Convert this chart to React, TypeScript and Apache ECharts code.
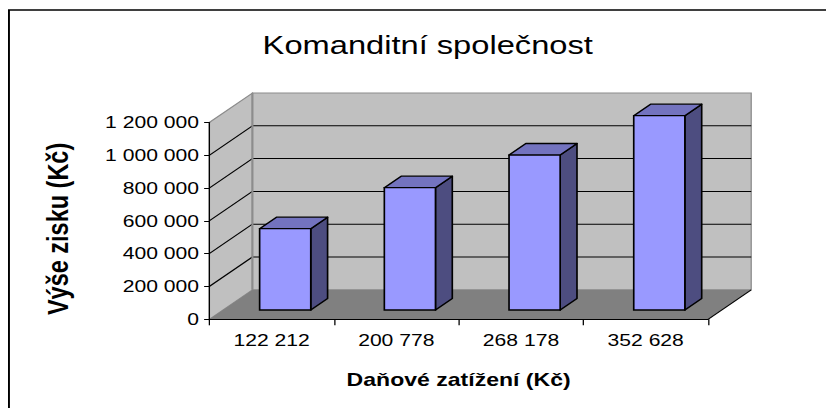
import React, { useEffect, useRef } from "react";
import * as echarts from "echarts";

// ---- data ----
const categories = ["122 212", "200 778", "268 178", "352 628"];
const profits = [496000, 746000, 945000, 1185000];
const yTicks = [0, 200000, 400000, 600000, 800000, 1000000, 1200000];
const yTickLabels = ["0", "200 000", "400 000", "600 000", "800 000", "1 000 000", "1 200 000"];
const titleText = "Komanditní společnost";
const xTitle = "Daňové zatížení (Kč)";
const yTitle = "Výše zisku (Kč)";

// ---- layout (internal chart units; chart is stretched horizontally like the original) ----
const OUT_W = 826;
const IN_W = 645;
const SX = OUT_W / IN_W;
const H = 408;
const DX = 33.7; // depth offset of back wall
const DY = -29.5;
const F0 = 0.315; // bar front plane depth fraction
const DEPTH = 0.39; // bar depth fraction
const BAR_W = 0.41; // bar width as fraction of category
const FONT = "'Liberation Sans', Arial, sans-serif";

export default function App() {
  const ref = useRef<HTMLDivElement>(null);
  useEffect(() => {
    if (!ref.current) return;
    const chart = echarts.init(ref.current, undefined, { renderer: "svg" });
    const option: any = {
      animation: false,
      backgroundColor: "#fff",
      title: {
        text: titleText,
        left: 329,
        top: 26.5,
        padding: 5,
        textAlign: "center",
        textStyle: { fontFamily: FONT, fontSize: 25.5, fontWeight: "normal", color: "#000" },
      },
      graphic: [
        {
          type: "rect",
          shape: { x: 7, y: 10, width: 700, height: 460 },
          style: { fill: "none", stroke: "#000", lineWidth: 1.5 },
          silent: true,
        },
      ],
      grid: { left: 163.4, right: IN_W - 552.9, top: 122.5, bottom: H - 319.3, containLabel: false },
      xAxis: {
        type: "category",
        data: categories,
        z: 10,
        boundaryGap: true,
        axisLine: { lineStyle: { color: "#000", width: 1 } },
        axisTick: { show: true, length: 6, alignWithLabel: false, lineStyle: { color: "#000" } },
        axisLabel: { color: "#000", fontFamily: FONT, fontSize: 16.5, margin: 13 },
        splitLine: { show: false },
        name: xTitle,
        nameLocation: "middle",
        nameGap: 51,
        nameTextStyle: { color: "#000", fontFamily: FONT, fontSize: 18, fontWeight: "bold" },
      },
      yAxis: {
        type: "value",
        min: 0,
        max: 1200000,
        interval: 200000,
        z: 10,
        axisLine: { show: true, lineStyle: { color: "#000", width: 1 } },
        axisTick: { show: true, length: 4, lineStyle: { color: "#000" } },
        axisLabel: {
          color: "#000",
          fontFamily: FONT,
          fontSize: 16.5,
          margin: 8,
          formatter: (v: number) => {
            const i = yTicks.indexOf(v);
            return i >= 0 ? yTickLabels[i] : "";
          },
        },
        splitLine: { show: false },
        name: yTitle,
        nameLocation: "middle",
        nameGap: 106,
        nameTextStyle: {
          color: "#000",
          fontFamily: FONT,
          fontSize: 23.5,
          fontWeight: "bold",
          padding: [0, 16, 0, 0],
        },
      },
      series: [
        {
          type: "custom",
          z: 1,
          silent: true,
          clip: false,
          data: [[0, 0]],
          encode: { x: 0, y: 1 },
          renderItem: (params: any, api: any) => {
            const cs = params.coordSys;
            const x0 = cs.x;
            const x1 = cs.x + cs.width;
            const yT = cs.y;
            const yB = cs.y + cs.height;
            const children: any[] = [];
            // back wall
            children.push({
              type: "polygon",
              shape: { points: [[x0 + DX, yT + DY], [x1 + DX, yT + DY], [x1 + DX, yB + DY], [x0 + DX, yB + DY]] },
              style: { fill: "#c0c0c0", stroke: "#8c8c8c", lineWidth: 1 },
            });
            // left wall
            children.push({
              type: "polygon",
              shape: { points: [[x0, yT], [x0 + DX, yT + DY], [x0 + DX, yB + DY], [x0, yB]] },
              style: { fill: "#c0c0c0", stroke: "#8c8c8c", lineWidth: 1 },
            });
            // floor
            children.push({
              type: "polygon",
              shape: { points: [[x0, yB], [x1, yB], [x1 + DX, yB + DY], [x0 + DX, yB + DY]] },
              style: { fill: "#808080", stroke: "none" },
            });
            // gridlines
            yTicks.forEach((v) => {
              if (v === 0 || v === yTicks[yTicks.length - 1]) return;
              const y = api.coord([0, v])[1];
              children.push({
                type: "line",
                shape: { x1: x0, y1: y, x2: x0 + DX, y2: y + DY },
                style: { stroke: "#000", lineWidth: 1 },
              });
              children.push({
                type: "line",
                shape: { x1: x0 + DX, y1: y + DY, x2: x1 + DX, y2: y + DY },
                style: { stroke: "#000", lineWidth: 1 },
              });
            });
            // back corner edge
            children.push({
              type: "line",
              shape: { x1: x0 + DX, y1: yT + DY, x2: x0 + DX, y2: yB + DY },
              style: { stroke: "#8c8c8c", lineWidth: 1.6 },
            });
            // floor right edge
            children.push({
              type: "line",
              shape: { x1: x1, y1: yB, x2: x1 + DX, y2: yB + DY },
              style: { stroke: "#000", lineWidth: 1 },
            });
            return { type: "group", children };
          },
        },
        {
          type: "custom",
          z: 2,
          clip: false,
          data: profits.map((v, i) => [i, v]),
          encode: { x: 0, y: 1 },
          renderItem: (params: any, api: any) => {
            const i = api.value(0);
            const v = api.value(1);
            const top = api.coord([i, v]);
            const base = api.coord([i, 0]);
            const cw = api.size([1, 0])[0];
            const bw = cw * BAR_W;
            const ox = DX * F0;
            const oy = DY * F0;
            const xl = top[0] - bw / 2 + ox;
            const xr = top[0] + bw / 2 + ox;
            const yt = top[1] + oy;
            const yb = base[1] + oy;
            const ddx = DX * DEPTH;
            const ddy = DY * DEPTH;
            const lw = 1.3;
            return {
              type: "group",
              children: [
                {
                  type: "polygon",
                  shape: { points: [[xr, yt], [xr + ddx, yt + ddy], [xr + ddx, yb + ddy], [xr, yb]] },
                  style: { fill: "#4d4d80", stroke: "#000", lineWidth: lw, lineJoin: "round" },
                },
                {
                  type: "polygon",
                  shape: { points: [[xl, yt], [xr, yt], [xr + ddx, yt + ddy], [xl + ddx, yt + ddy]] },
                  style: { fill: "#7373bf", stroke: "#000", lineWidth: lw, lineJoin: "round" },
                },
                {
                  type: "rect",
                  shape: { x: xl, y: yt, width: xr - xl, height: yb - yt },
                  style: { fill: "#9999ff", stroke: "#000", lineWidth: lw },
                },
              ],
            };
          },
        },
      ],
    };
    chart.setOption(option);
    return () => chart.dispose();
  }, []);

  return (
    <div
      ref={ref}
      style={{
        position: "absolute",
        left: 0,
        top: 0,
        width: IN_W,
        height: H,
        transform: `scaleX(${SX})`,
        transformOrigin: "0 0",
      }}
    />
  );
}
